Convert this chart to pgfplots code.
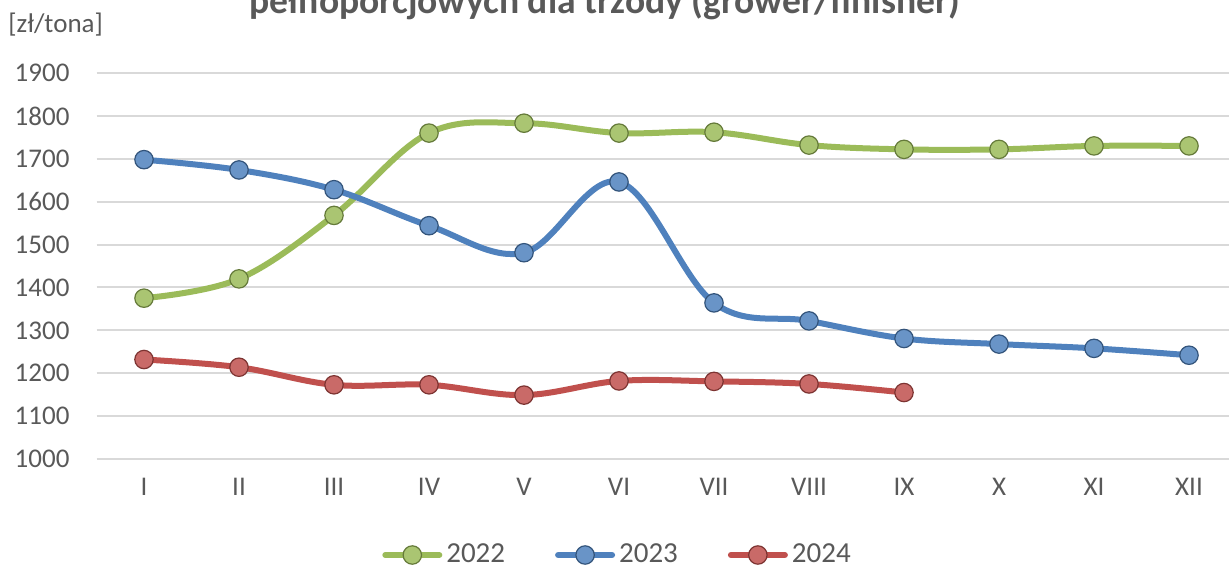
\documentclass[border=0pt]{standalone}
\usepackage{pgfplots}
\pgfplotsset{compat=1.18}
\usepackage{fontspec}
\setmainfont{Carlito}
\definecolor{g22}{HTML}{9BBB59}
\definecolor{b23}{HTML}{4F81BD}
\definecolor{r24}{HTML}{C0504D}
\definecolor{txt}{HTML}{595959}
\definecolor{grd}{HTML}{D9D9D9}
\begin{document}
\begin{tikzpicture}
\begin{axis}[
  at={(0,0)}, anchor=south west,
  scale only axis, width=570pt, height=193pt,
  xmin=0.5, xmax=12.5, ymin=1000, ymax=1900,
  xtick={1,...,12},
  xticklabels={I,II,III,IV,V,VI,VII,VIII,IX,X,XI,XII},
  ytick={1000,1100,...,1900},
  axis line style={draw=none},
  major tick length=0pt,
  ymajorgrids, grid style={grd, line width=1pt},
  tick label style={font=\fontsize{13.5}{15}\selectfont, text=txt},
  /pgf/number format/assume math mode=true,
  /pgf/number format/1000 sep={},
  yticklabel style={anchor=east, xshift=-10pt},
  xticklabel style={anchor=center, yshift=-14pt},
  clip=false,
  legend style={draw=none, at={(261pt,-48pt)}, anchor=center, font=\fontsize{14.5}{16}\selectfont, text=txt, legend columns=3,
    inner sep=0pt,
    /tikz/every even column/.append style={column sep=23pt}},
  legend image code/.code={
    \draw[mark repeat=2, mark phase=2, line cap=round, smooth=false] plot coordinates {(0pt,0pt) (13.5pt,0pt) (27pt,0pt)};
  },
  every axis plot/.append style={line width=3pt, smooth, tension=0.6, mark=*, mark size=4.6pt},
]
\addplot[g22, mark options={fill=g22!85!white, draw=g22!65!black, line width=0.6pt}] coordinates {
(1,1375) (2,1420) (3,1568) (4,1760) (5,1783) (6,1760) (7,1762) (8,1732) (9,1722) (10,1722) (11,1730) (12,1730)};
\addlegendentry{2022}
\addplot[b23, mark options={fill=b23!85!white, draw=b23!65!black, line width=0.6pt}] coordinates {
(1,1698) (2,1674) (3,1628) (4,1544) (5,1481) (6,1646) (7,1364) (8,1322) (9,1281) (10,1268) (11,1258) (12,1242)};
\addlegendentry{2023}
\addplot[r24, mark options={fill=r24!85!white, draw=r24!65!black, line width=0.6pt}] coordinates {
(1,1232) (2,1214) (3,1173) (4,1173) (5,1149) (6,1182) (7,1181) (8,1175) (9,1155)};
\addlegendentry{2024}
\end{axis}
\node[anchor=base, text=txt, font=\fontsize{18.8}{21}\selectfont\bfseries] at (254.25pt,222.5pt) {pełnoporcjowych dla trzody (grower/finisher)};
\node[anchor=base west, text=txt, font=\fontsize{13.5}{15}\selectfont, inner sep=0pt] at (-44.25pt,213pt) {[zł/tona]};
\pgfresetboundingbox
\path (-48.25pt,-54.5pt) rectangle (566.25pt,229.5pt);
\end{tikzpicture}
\end{document}
